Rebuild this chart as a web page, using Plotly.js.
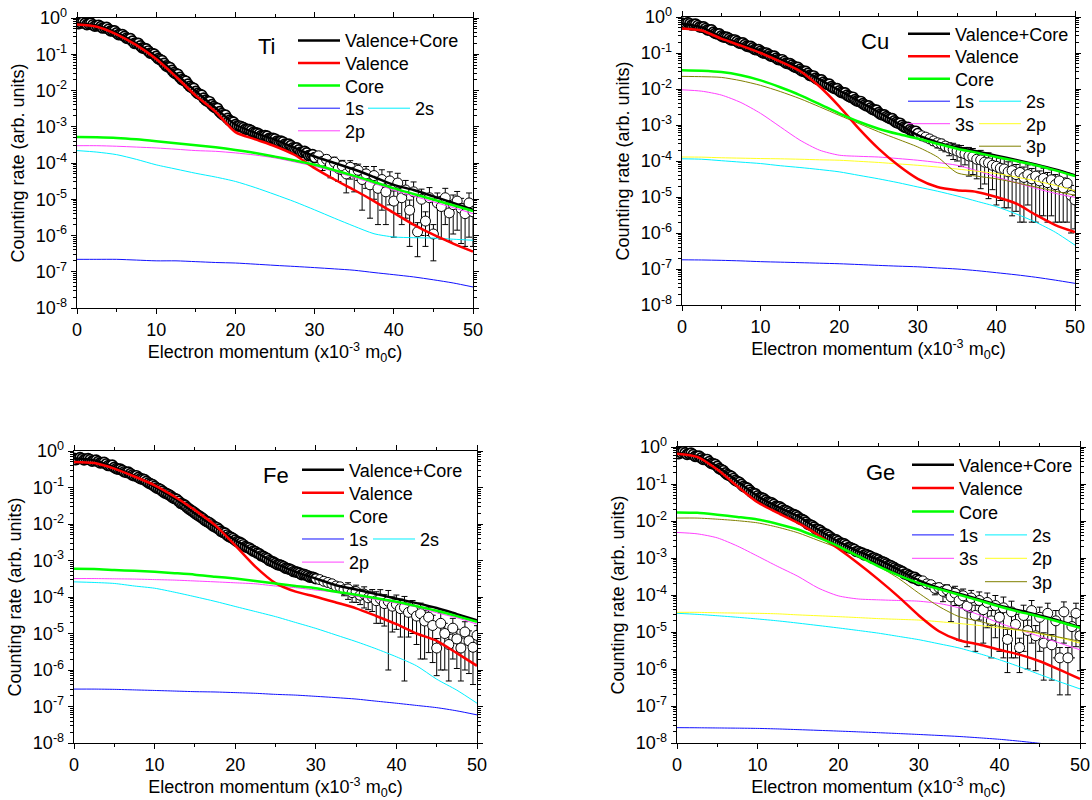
<!DOCTYPE html>
<html>
<head>
<meta charset="utf-8">
<script src="https://cdn.plot.ly/plotly-3.0.1.min.js"></script>
<style>html,body{margin:0;padding:0;background:#fff;}#chart{width:1092px;height:800px;}</style>
</head>
<body>
<div id="chart"></div>
<script>
// ---------- data ----------
// measured points: dense part (step 0.25) and tail (step 0.5)
const xDense = [0,0.25,0.5,0.75,1,1.25,1.5,1.75,2,2.25,2.5,2.75,3,3.25,3.5,3.75,4,4.25,4.5,4.75,
 5,5.25,5.5,5.75,6,6.25,6.5,6.75,7,7.25,7.5,7.75,8,8.25,8.5,8.75,9,9.25,9.5,9.75,
 10,10.25,10.5,10.75,11,11.25,11.5,11.75,12,12.25,12.5,12.75,13,13.25,13.5,13.75,14,14.25,14.5,14.75,
 15,15.25,15.5,15.75,16,16.25,16.5,16.75,17,17.25,17.5,17.75,18,18.25,18.5,18.75,19,19.25,19.5,19.75,
 20,20.25,20.5,20.75,21,21.25,21.5,21.75,22,22.25,22.5,22.75,23,23.25,23.5,23.75,24,24.25,24.5,24.75,
 25,25.25,25.5,25.75,26,26.25,26.5,26.75,27,27.25,27.5,27.75,28,28.25,28.5,28.75,29,29.25,29.5,29.75,30];
const xTail = [30.5,31,31.5,32,32.5,33,33.5,34,34.5,35,35.5,36,36.5,37,37.5,38,38.5,39,39.5,40,
 40.5,41,41.5,42,42.5,43,43.5,44,44.5,45,45.5,46,46.5,47,47.5,48,48.5,49,49.5,50];
// model curves
const xc = [0,2.5,5,7.5,10,12.5,15,17.5,20,22.5,25,27.5,30,32.5,35,37.5,40,42.5,45,47.5,50];

// ----- Ti -----
const tiDense = [0.76,0.70,0.74,0.78, 0.71,0.66,0.69,0.72, 0.65,0.60,0.62,0.63, 0.58,0.53,0.54,0.55, 0.49,0.44,0.44,0.44,
 0.39,0.35,0.35,0.35, 0.31,0.28,0.27,0.27, 0.23,0.20,0.20,0.20, 0.17,0.15,0.145,0.14, 0.123,0.108,0.105,0.101,
 0.087,0.076,0.071,0.067, 0.056,0.048,0.045,0.043, 0.036,0.031,0.029,0.028, 0.023,0.020,0.019,0.018, 0.015,0.013,0.012,0.0115,
 0.0095,0.0083,0.0078,0.0075, 0.0062,0.0054,0.0050,0.0049, 0.0041,0.0036,0.0033,0.0032, 0.0026,0.0023,0.0021,0.0021, 0.0017,0.0015,0.0014,0.00135,
 0.00115,0.00105,0.00105,0.0010, 0.00095,0.00086,0.00085,0.00083, 0.00078,0.00070,0.00068,0.00067, 0.00063,0.00057,0.00056,0.00057, 0.00055,0.00048,0.00047,0.00048,
 0.00046,0.00040,0.00039,0.00040, 0.00038,0.00033,0.00032,0.00033, 0.00030,0.00026,0.00025,0.00026, 0.00023,0.00020,0.00020,0.00021, 0.00019,0.00016,0.000166,0.00017,
 0.000141];
const tiTail = [0.000158,0.000112,0.000126,8.9e-5,1.05e-4,7.1e-5,8.3e-5,5.0e-5,7.6e-5,
 5.6e-5,6.3e-5,3.5e-5,5.0e-5,2.5e-5,4.5e-5,2.0e-5,3.5e-5,1.6e-5,3.2e-5,
 8.9e-6,2.8e-5,1.1e-5,1.8e-5,5.0e-6,1.6e-5,1.26e-6,1.0e-5,2.5e-6,1.1e-5,
 1.1e-6,7.9e-6,6.3e-6,1.1e-5,4.2e-6,7.1e-6,8.9e-6,5.6e-6,4.0e-6,7.9e-6,
 4.5e-6];
const tiErr = [4e-5,5e-5,4e-5,5e-5,4e-5,
 4e-5,3.5e-5,3.5e-5,4e-5,4e-5,3e-5,3e-5,3e-5,2.2e-5,3.5e-5,
 1.8e-5,3e-5,1.4e-5,2.5e-5,8e-6,2.4e-5,9e-6,1.5e-5,4.5e-6,1.4e-5,
 1e-6,9e-6,2e-6,1e-5,9e-7,7e-6,5.5e-6,9e-6,3.5e-6,6e-6,
 7.5e-6,5e-6,3.5e-6,7e-6,4e-6];
const tiTotal = [0.72,0.62,0.39,0.20,0.087,0.029,0.0095,0.0033,0.00115,0.00068,0.00044,0.00026,0.000151,1.0e-4,6.6e-5,4.1e-5,2.5e-5,1.8e-5,1.2e-5,7.9e-6,5.1e-6];
const tiValence = [0.66,0.575,0.355,0.178,0.074,0.024,0.0072,0.0026,0.00071,0.00045,0.00029,0.000166,7.2e-5,3.5e-5,1.8e-5,8.9e-6,4.2e-6,2.0e-6,1.05e-6,6.0e-7,3.6e-7];
const tiCore = [5.2e-4,5.1e-4,4.9e-4,4.5e-4,4.0e-4,3.5e-4,3.1e-4,2.7e-4,2.3e-4,1.9e-4,1.5e-4,1.17e-4,8.9e-5,6.3e-5,4.4e-5,3.0e-5,2.0e-5,1.4e-5,9.8e-6,6.8e-6,4.7e-6];
const ti1s = [2.2e-7,2.2e-7,2.2e-7,2.1e-7,2.0e-7,2.0e-7,1.9e-7,1.8e-7,1.74e-7,1.62e-7,1.5e-7,1.4e-7,1.3e-7,1.2e-7,1.1e-7,9.5e-8,8.3e-8,7.2e-8,6.0e-8,4.9e-8,3.8e-8];
const ti2s = [2.2e-4,2.0e-4,1.7e-4,1.26e-4,8.9e-5,6.8e-5,5.2e-5,4.1e-5,3.1e-5,2.1e-5,1.35e-5,8.5e-6,5.1e-6,3.0e-6,1.8e-6,1.12e-6,9.1e-7,8.7e-7,8.5e-7,7.9e-7,7.4e-7];
const ti2p = [3.0e-4,3.0e-4,2.9e-4,2.75e-4,2.6e-4,2.4e-4,2.2e-4,2.1e-4,1.9e-4,1.66e-4,1.38e-4,1.07e-4,8.1e-5,5.8e-5,4.0e-5,2.7e-5,1.8e-5,1.23e-5,8.5e-6,5.9e-6,4.0e-6];

// ----- Cu -----
const cuDense = [0.68,0.64,0.66,0.69, 0.65,0.60,0.62,0.63, 0.58,0.53,0.52,0.53, 0.48,0.44,0.43,0.44, 0.38,0.35,0.34,0.34,
 0.30,0.28,0.275,0.27, 0.25,0.23,0.23,0.23, 0.21,0.19,0.186,0.19, 0.17,0.155,0.15,0.152, 0.138,0.126,0.123,0.124,
 0.112,0.102,0.100,0.100, 0.091,0.083,0.081,0.082, 0.072,0.066,0.065,0.065, 0.058,0.052,0.051,0.051, 0.046,0.042,0.040,0.040,
 0.035,0.032,0.031,0.031, 0.027,0.024,0.023,0.023, 0.020,0.0185,0.0178,0.018, 0.0155,0.0142,0.0135,0.0136, 0.0117,0.0107,0.0102,0.0103,
 0.0089,0.0081,0.0078,0.0078, 0.0068,0.0062,0.0059,0.0059, 0.0051,0.0047,0.0045,0.0045, 0.0039,0.0036,0.0034,0.0034, 0.0030,0.0027,0.0026,0.0026,
 0.0022,0.0020,0.0019,0.0019, 0.0017,0.0016,0.0015,0.0015, 0.0013,0.00118,0.00112,0.00112, 0.00098,0.00089,0.00085,0.00086, 0.00074,0.00069,0.00066,0.00067,
 0.00058];
const cuTail = [0.00050,0.00046,0.00041,0.00036,0.00032,0.00030,0.00026,0.00023,0.00021,
 0.00019,0.00017,0.000158,0.000138,0.000132,0.000112,0.000107,9.3e-5,8.9e-5,7.6e-5,
 7.1e-5,6.3e-5,6.0e-5,5.0e-5,5.4e-5,4.2e-5,4.8e-5,3.5e-5,4.2e-5,3.2e-5,
 3.8e-5,2.8e-5,3.3e-5,2.5e-5,3.0e-5,2.2e-5,2.8e-5,1.8e-5,2.4e-5,1.1e-5,
 8.3e-6];
const cuErr = [7e-5,8e-5,8e-5,9e-5,9e-5,
 1e-4,8e-5,9e-5,1e-4,9e-5,1e-4,8e-5,1e-4,9e-5,8e-5,
 9e-5,7e-5,8e-5,6e-5,6.5e-5,5.5e-5,5.5e-5,4.5e-5,5.1e-5,3.8e-5,
 4.6e-5,3.3e-5,3.6e-5,3e-5,3.6e-5,2.5e-5,3e-5,2.3e-5,2.7e-5,2e-5,
 2.6e-5,1.6e-5,2.2e-5,1e-5,7e-6];
const cuTotal = [0.65,0.52,0.28,0.18,0.117,0.068,0.037,0.0186,0.0091,0.0046,0.0023,0.0011,5.2e-4,3.3e-4,2.4e-4,1.85e-4,1.4e-4,1.07e-4,8.0e-5,5.8e-5,4.0e-5];
const cuValence = [0.48,0.42,0.25,0.16,0.1,0.058,0.0316,0.0117,0.0033,7.9e-4,2.2e-4,7.6e-5,3.2e-5,1.9e-5,1.55e-5,1.38e-5,1.0e-5,6.6e-6,3.2e-6,1.66e-6,1.07e-6];
const cuCore = [0.033,0.032,0.0295,0.024,0.0174,0.0112,0.0068,0.0038,0.0021,0.00123,7.9e-4,5.6e-4,4.2e-4,3.0e-4,2.2e-4,1.7e-4,1.29e-4,1.0e-4,7.6e-5,5.5e-5,3.8e-5];
const cu1s = [1.8e-7,1.78e-7,1.74e-7,1.68e-7,1.6e-7,1.55e-7,1.5e-7,1.45e-7,1.4e-7,1.33e-7,1.26e-7,1.2e-7,1.15e-7,1.07e-7,1.0e-7,9.0e-8,7.9e-8,6.9e-8,5.9e-8,4.9e-8,4.0e-8];
const cu2s = [1.15e-4,1.12e-4,1.02e-4,9.3e-5,8.5e-5,7.4e-5,6.6e-5,5.8e-5,5.0e-5,4.0e-5,3.2e-5,2.5e-5,1.9e-5,1.45e-5,1.07e-5,7.6e-6,5.4e-6,3.4e-6,2.0e-6,1.05e-6,4.6e-7];
const cu3s = [0.0095,0.0087,0.0068,0.0042,0.0021,8.9e-4,3.8e-4,2.0e-4,1.45e-4,1.35e-4,1.29e-4,1.17e-4,1.05e-4,9.1e-5,7.6e-5,5.4e-5,3.6e-5,2.5e-5,1.74e-5,1.26e-5,9.8e-6];
const cu2p = [1.29e-4,1.28e-4,1.23e-4,1.2e-4,1.17e-4,1.15e-4,1.12e-4,1.08e-4,1.05e-4,9.8e-5,9.1e-5,8.3e-5,7.6e-5,6.8e-5,6.0e-5,5.2e-5,4.5e-5,3.6e-5,2.8e-5,2.1e-5,1.48e-5];
const cu3p = [0.0224,0.022,0.021,0.017,0.0126,0.0085,0.0054,0.0032,0.00186,0.0011,6.5e-4,4.0e-4,2.45e-4,1.29e-4,4.7e-5,3.8e-5,3.2e-5,2.5e-5,1.9e-5,1.45e-5,1.12e-5];

// ----- Fe -----
const feDense = [0.63,0.58,0.62,0.66, 0.62,0.57,0.60,0.62, 0.58,0.53,0.55,0.56, 0.51,0.47,0.48,0.49, 0.44,0.40,0.40,0.41,
 0.355,0.33,0.32,0.32, 0.295,0.27,0.26,0.265, 0.24,0.22,0.21,0.21, 0.19,0.175,0.17,0.165, 0.148,0.134,0.126,0.12,
 0.107,0.097,0.093,0.088, 0.079,0.071,0.068,0.064, 0.059,0.053,0.050,0.047, 0.042,0.037,0.035,0.033, 0.029,0.026,0.024,0.022,
 0.020,0.018,0.0166,0.0155, 0.0141,0.0125,0.0117,0.0110, 0.0100,0.0089,0.0083,0.0079, 0.0071,0.0063,0.0059,0.0056, 0.0050,0.0045,0.0043,0.0040,
 0.0036,0.0033,0.0032,0.0030, 0.0027,0.0024,0.0023,0.0022, 0.0020,0.0018,0.00174,0.0016, 0.00151,0.00135,0.00129,0.0012, 0.00112,0.0010,0.00095,0.0009,
 0.00083,0.00077,0.00076,0.00072, 0.00068,0.00062,0.00060,0.00058, 0.00055,0.00050,0.00049,0.00047, 0.00045,0.00041,0.00042,0.00040, 0.00038,0.00035,0.00035,0.00034,
 0.00032];
const feTail = [0.00030,0.00027,0.00025,0.00023,0.00020,0.00019,0.000158,0.000166,0.000132,
 0.000141,0.000112,0.00012,9.5e-5,1.0e-4,7.9e-5,8.9e-5,6.6e-5,7.6e-5,5.6e-5,
 6.3e-5,4.8e-5,5.2e-5,3.8e-5,4.5e-5,3.0e-5,3.5e-5,2.2e-5,2.8e-5,1.66e-5,
 4.0e-6,1.9e-5,1.0e-5,5.0e-6,1.4e-5,7.1e-6,4.0e-6,1.1e-5,6.3e-6,4.2e-6,
 8.9e-6];
const feErr = [3e-5,3e-5,3.5e-5,4e-5,4e-5,
 5e-5,5e-5,8e-5,6e-5,7e-5,5e-5,7e-5,5e-5,6e-5,6e-5,
 7e-5,5e-5,7.5e-5,4.5e-5,5e-5,4e-5,5.15e-5,3e-5,3.5e-5,2.5e-5,
 3.3e-5,2e-5,2.5e-5,1.5e-5,3.3e-6,1.8e-5,9e-6,4.5e-6,1.2e-5,6e-6,
 3.5e-6,1e-5,5.5e-6,3.8e-6,7.5e-6];
const feTotal = [0.62,0.56,0.355,0.21,0.105,0.05,0.0195,0.0083,0.0036,0.00174,8.3e-4,4.9e-4,3.2e-4,2.1e-4,1.6e-4,1.2e-4,9.0e-5,6.8e-5,5.0e-5,3.4e-5,2.3e-5];
const feValence = [0.5,0.47,0.33,0.2,0.115,0.056,0.024,0.0093,0.0026,6.8e-4,2.4e-4,1.4e-4,1.02e-4,7.1e-5,4.9e-5,3.0e-5,1.8e-5,1.0e-5,6.3e-6,2.9e-6,1.3e-6];
const feCore = [5.9e-4,5.85e-4,5.5e-4,5.2e-4,4.9e-4,4.5e-4,4.1e-4,3.6e-4,3.2e-4,2.75e-4,2.35e-4,2.0e-4,1.74e-4,1.4e-4,1.15e-4,9.3e-5,7.4e-5,5.6e-5,4.2e-5,3.0e-5,2.1e-5];
const fe1s = [3.0e-7,3.0e-7,2.95e-7,2.85e-7,2.75e-7,2.65e-7,2.55e-7,2.5e-7,2.4e-7,2.3e-7,2.15e-7,2.05e-7,1.9e-7,1.75e-7,1.6e-7,1.4e-7,1.23e-7,1.07e-7,9.3e-8,7.6e-8,5.9e-8];
const fe2s = [2.6e-4,2.5e-4,2.35e-4,2.0e-4,1.74e-4,1.35e-4,1.02e-4,7.6e-5,5.5e-5,4.0e-5,2.9e-5,2.0e-5,1.38e-5,9.1e-6,6.0e-6,3.8e-6,2.3e-6,1.3e-6,5.6e-7,2.8e-7,1.23e-7];
const fe2p = [3.2e-4,3.2e-4,3.15e-4,3.1e-4,3.0e-4,2.9e-4,2.75e-4,2.6e-4,2.45e-4,2.3e-4,2.0e-4,1.8e-4,1.55e-4,1.35e-4,1.05e-4,8.5e-5,6.8e-5,5.3e-5,3.7e-5,2.7e-5,1.8e-5];

// ----- Ge -----
const geDense = [0.72,0.66,0.71,0.75, 0.69,0.63,0.66,0.68, 0.62,0.56,0.56,0.57, 0.51,0.46,0.46,0.46, 0.40,0.36,0.35,0.34,
 0.30,0.26,0.245,0.23, 0.20,0.18,0.17,0.16, 0.141,0.125,0.117,0.111, 0.098,0.086,0.081,0.077, 0.068,0.060,0.056,0.054,
 0.048,0.043,0.042,0.040, 0.036,0.033,0.032,0.031, 0.028,0.025,0.0245,0.024, 0.022,0.0195,0.019,0.018, 0.0166,0.0150,0.0148,0.0142,
 0.0129,0.0114,0.011,0.0104, 0.0093,0.0082,0.0079,0.0075, 0.0068,0.0060,0.0059,0.0056, 0.0050,0.0045,0.0044,0.0041, 0.0037,0.0033,0.0032,0.0031,
 0.0028,0.0025,0.0025,0.0024, 0.0022,0.0019,0.0019,0.0018, 0.0017,0.0015,0.0015,0.0014, 0.00135,0.00122,0.00123,0.00117, 0.0011,0.00099,0.0010,0.00094,
 0.00089,0.0008,0.00079,0.00075, 0.00069,0.00063,0.00062,0.00058, 0.00054,0.00049,0.00048,0.00045, 0.00042,0.00037,0.00037,0.00034, 0.00032,0.00029,0.00030,0.00027,
 0.00025];
const geTail = [0.00024,0.00020,0.00019,0.000151,0.000158,0.000126,0.000138,8.9e-5,1.12e-4,
 7.1e-5,9.5e-5,5.0e-5,8.3e-5,2.8e-5,7.1e-5,4.0e-5,6.3e-5,2.0e-5,5.2e-5,
 2.5e-5,4.5e-5,6.3e-6,3.5e-5,1.6e-5,3.8e-6,2.8e-5,1.1e-5,3.8e-5,7.9e-6,
 2.5e-5,5.0e-6,3.2e-5,4.5e-6,2.0e-5,2.0e-6,3.5e-5,2.0e-6,1.4e-5,3.2e-5,
 7.9e-6];
const geErr = [4e-5,4e-5,4e-5,5e-5,5e-5,
 6e-5,5e-5,7e-5,6e-5,6.5e-5,5e-5,4.6e-5,5e-5,2.5e-5,5e-5,
 3.5e-5,5e-5,1.8e-5,4.5e-5,2.2e-5,4.3e-5,5.5e-6,3.3e-5,1.4e-5,3e-6,
 2.5e-5,1e-5,3.3e-5,7e-6,2.2e-5,4.5e-6,2.8e-5,4e-6,1.8e-5,1.8e-6,
 3e-5,1.8e-6,1.2e-5,2.8e-5,7e-6];
const geTotal = [0.69,0.575,0.30,0.117,0.047,0.024,0.0135,0.0059,0.0028,0.0015,8.9e-4,4.8e-4,2.5e-4,1.55e-4,1.08e-4,7.6e-5,5.2e-5,3.8e-5,2.8e-5,2.0e-5,1.35e-5];
const geValence = [0.66,0.54,0.245,0.087,0.032,0.0166,0.0089,0.0042,0.0018,7.1e-4,2.6e-4,8.9e-5,2.8e-5,1.05e-5,6.0e-6,4.6e-6,3.3e-6,2.45e-6,1.62e-6,9.5e-7,5.4e-7];
const geCore = [0.017,0.0166,0.0148,0.0129,0.011,0.0083,0.0059,0.0036,0.0021,0.00112,5.9e-4,3.4e-4,2.1e-4,1.45e-4,1.02e-4,7.1e-5,4.9e-5,3.5e-5,2.6e-5,1.86e-5,1.29e-5];
const ge1s = [2.6e-8,2.58e-8,2.55e-8,2.52e-8,2.48e-8,2.4e-8,2.3e-8,2.2e-8,2.1e-8,2.0e-8,1.9e-8,1.8e-8,1.7e-8,1.6e-8,1.5e-8,1.38e-8,1.26e-8,1.12e-8,9.8e-9,8.6e-9,7.4e-9];
const ge2s = [3.2e-5,3.0e-5,2.75e-5,2.5e-5,2.25e-5,2.0e-5,1.74e-5,1.5e-5,1.29e-5,1.1e-5,9.3e-6,7.6e-6,6.2e-6,4.8e-6,3.7e-6,2.6e-6,1.78e-6,1.15e-6,7.1e-7,4.5e-7,2.9e-7];
const ge3s = [0.0049,0.0045,0.0035,0.0021,0.00112,5.9e-4,3.2e-4,1.55e-4,9.5e-5,7.8e-5,7.4e-5,7.1e-5,6.8e-5,5.9e-5,4.5e-5,2.9e-5,1.74e-5,1.15e-5,7.6e-6,5.0e-6,3.3e-6];
const ge2p = [3.4e-5,3.4e-5,3.3e-5,3.25e-5,3.2e-5,3.1e-5,2.9e-5,2.75e-5,2.6e-5,2.45e-5,2.3e-5,2.2e-5,2.1e-5,1.9e-5,1.7e-5,1.5e-5,1.29e-5,1.1e-5,9.0e-6,7.0e-6,5.0e-6];
const ge3p = [0.012,0.012,0.0112,0.0102,0.0089,0.0068,0.0048,0.003,0.00186,0.00107,5.9e-4,2.8e-4,1.12e-4,4.9e-5,2.6e-5,1.95e-5,1.41e-5,1.15e-5,9.3e-6,7.2e-6,5.6e-6];

const decadeVals = [1e-8,1e-7,1e-6,1e-5,1e-4,1e-3,1e-2,1e-1,1];
const decadeText = ['10<sup>-8</sup>','10<sup>-7</sup>','10<sup>-6</sup>','10<sup>-5</sup>','10<sup>-4</sup>','10<sup>-3</sup>','10<sup>-2</sup>','10<sup>-1</sup>','10<sup>0</sup>'];
const yTitle = 'Counting rate (arb. units)';
const xTitle = 'Electron momentum (x10<sup>-3</sup> m<sub>0</sub>c)';

// ---------- styling / layout ----------
const W = 1092, H = 800;
const FONT = 'Arial, "Liberation Sans", Helvetica, sans-serif';
const COL = {black:'#000000', red:'#ff0000', green:'#00ff00', blue:'#1010ff', cyan:'#00f0ff', magenta:'#ff40ff', yellow:'#ffff20', olive:'#808000'};

const panels = [
  {el:'Ti', dom:{x:[77,473], y:[18,308]}, label:[267,47], dense:tiDense, tail:tiTail, err:tiErr,
   curves:[['Valence+Core',tiTotal,COL.black,2.5,0,0],['Valence',tiValence,COL.red,2.5,0,1],['Core',tiCore,COL.green,2.5,0,2],
           ['1s',ti1s,COL.blue,1,0,3],['2s',ti2s,COL.cyan,1,1,3],['2p',ti2p,COL.magenta,1,0,4]],
   leg:{c0:298, c1:368, r0:40.7, dr:22.6}},
  {el:'Cu', dom:{x:[682,1075], y:[17,305]}, label:[875,42], dense:cuDense, tail:cuTail, err:cuErr,
   curves:[['Valence+Core',cuTotal,COL.black,2.5,0,0],['Valence',cuValence,COL.red,2.5,0,1],['Core',cuCore,COL.green,2.5,0,2],
           ['1s',cu1s,COL.blue,1,0,3],['2s',cu2s,COL.cyan,1,1,3],['3s',cu3s,COL.magenta,1,0,4],['2p',cu2p,COL.yellow,1,1,4],['3p',cu3p,COL.olive,1,1,5]],
   leg:{c0:908, c1:979, r0:34, dr:22.5}},
  {el:'Fe', dom:{x:[74,477], y:[451,743]}, label:[276,475], dense:feDense, tail:feTail, err:feErr,
   curves:[['Valence+Core',feTotal,COL.black,2.5,0,0],['Valence',feValence,COL.red,2.5,0,1],['Core',feCore,COL.green,2.5,0,2],
           ['1s',fe1s,COL.blue,1,0,3],['2s',fe2s,COL.cyan,1,1,3],['2p',fe2p,COL.magenta,1,0,4]],
   leg:{c0:302, c1:373, r0:470, dr:23.1}},
  {el:'Ge', dom:{x:[677,1080], y:[447,743]}, label:[880,472], dense:geDense, tail:geTail, err:geErr,
   curves:[['Valence+Core',geTotal,COL.black,2.5,0,0],['Valence',geValence,COL.red,2.5,0,1],['Core',geCore,COL.green,2.5,0,2],
           ['1s',ge1s,COL.blue,1,0,3],['2s',ge2s,COL.cyan,1,1,3],['3s',ge3s,COL.magenta,1,0,4],['2p',ge2p,COL.yellow,1,1,4],['3p',ge3p,COL.olive,1,1,5]],
   leg:{c0:912, c1:985, r0:465, dr:23.4}}
];

const minorVals = [];
for (let d = -8; d < 0; d++) for (let m = 2; m <= 9; m++) minorVals.push(m * Math.pow(10, d));

const traces = [];
const layout = {
  width: W, height: H, margin:{l:0,r:0,t:0,b:0},
  paper_bgcolor:'#ffffff', plot_bgcolor:'#ffffff',
  font:{family:FONT, size:18, color:'#000'},
  showlegend:true, annotations:[]
};
let legendCount = 0;
const xAll = xDense.concat(xTail);
// marker outline: heavier where the points pile up into a band
const outlineW = xDense.map(() => 1.7).concat(xTail.map(() => 1));

panels.forEach((p, i) => {
  const n = i + 1;
  const xa = n === 1 ? 'x' : 'x' + n, ya = n === 1 ? 'y' : 'y' + n;
  const xk = n === 1 ? 'xaxis' : 'xaxis' + n, yk = n === 1 ? 'yaxis' : 'yaxis' + n;
  layout[xk] = {
    domain:[p.dom.x[0]/W, p.dom.x[1]/W], anchor:ya, range:[0,50],
    tickmode:'linear', tick0:0, dtick:10, ticks:'outside', ticklen:5, tickwidth:1, tickcolor:'#000',
    minor:{tick0:0, dtick:5, ticks:'outside', ticklen:3, tickwidth:1, tickcolor:'#000', showgrid:false},
    mirror:'allticks', showline:true, linecolor:'#000', linewidth:1.3, showgrid:false, zeroline:false,
    ticklabeloverflow:'allow',
    tickfont:{family:FONT, size:18, color:'#000'},
    title:{text:xTitle, font:{family:FONT, size:18, color:'#000'}, standoff:4}
  };
  layout[yk] = {
    domain:[1 - p.dom.y[1]/H, 1 - p.dom.y[0]/H], anchor:xa, type:'log', range:[-8,0],
    tickmode:'array', tickvals:decadeVals, ticktext:decadeText,
    ticks:'outside', ticklen:5, tickwidth:1, tickcolor:'#000',
    minor:{tickmode:'array', tickvals:minorVals, ticks:'outside', ticklen:3, tickwidth:1, tickcolor:'#000', showgrid:false},
    mirror:'allticks', showline:true, linecolor:'#000', linewidth:1.3, showgrid:false, zeroline:false,
    ticklabeloverflow:'allow',
    tickfont:{family:FONT, size:18, color:'#000'},
    title:{text:yTitle, font:{family:FONT, size:18, color:'#000'}, standoff:6}
  };
  // experimental data with error bars (error bars shown in the tail)
  const yAll = p.dense.concat(p.tail);
  const errAll = new Array(p.dense.length).fill(0).concat(p.err);
  traces.push({
    x:xAll, y:yAll, xaxis:xa, yaxis:ya, type:'scatter', mode:'markers', showlegend:false,
    marker:{symbol:'circle', size:10, color:'#ffffff', line:{color:'#000000', width:outlineW}},
    error_y:{type:'data', array:errAll, visible:true, color:'#000000', thickness:1, width:3}
  });
  // model curves (thin first, thick on top)
  const order = p.curves.slice().sort((a, b) => a[3] - b[3]);
  order.forEach(c => {
    legendCount++;
    const lid = legendCount === 1 ? 'legend' : 'legend' + legendCount;
    traces.push({
      x:xc, y:c[1], xaxis:xa, yaxis:ya, type:'scatter', mode:'lines', name:c[0],
      line:{color:c[2], width:c[3], shape:'spline', smoothing:0.7},
      legend:lid, showlegend:true
    });
    const lineStart = c[4] === 0 ? p.leg.c0 : p.leg.c1;
    const rowY = p.leg.r0 + c[5]*p.leg.dr;
    layout[lid] = {
      x:(lineStart - 5)/W, y:1 - rowY/H, xanchor:'left', yanchor:'middle', xref:'paper', yref:'paper',
      bgcolor:'rgba(0,0,0,0)', borderwidth:0, itemwidth:42,
      font:{family:FONT, size:18, color:'#000'}
    };
  });
  layout.annotations.push({
    text:p.el, x:p.label[0]/W, y:1 - p.label[1]/H, xref:'paper', yref:'paper',
    showarrow:false, xanchor:'center', yanchor:'middle', font:{family:FONT, size:22, color:'#000'}
  });
});

Plotly.newPlot('chart', traces, layout, {displayModeBar:false, staticPlot:true});
</script>
</body>
</html>
